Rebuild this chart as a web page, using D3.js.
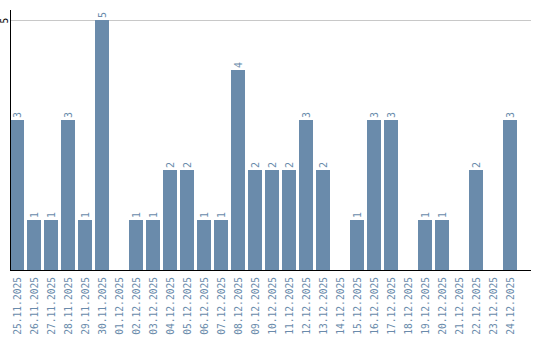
<!DOCTYPE html>
<html>
<head>
<meta charset="utf-8">
<script src="https://cdn.jsdelivr.net/npm/d3@7"></script>
<style>
  body { margin: 0; background: #fff; }
  svg { display: block; }
</style>
</head>
<body>
<div id="chart"></div>
<script>
const dates = ["25.11.2025", "26.11.2025", "27.11.2025", "28.11.2025", "29.11.2025", "30.11.2025",
    "01.12.2025", "02.12.2025", "03.12.2025", "04.12.2025", "05.12.2025", "06.12.2025",
    "07.12.2025", "08.12.2025", "09.12.2025", "10.12.2025", "11.12.2025", "12.12.2025",
    "13.12.2025", "14.12.2025", "15.12.2025", "16.12.2025", "17.12.2025", "18.12.2025",
    "19.12.2025", "20.12.2025", "21.12.2025", "22.12.2025", "23.12.2025", "24.12.2025"];
const counts = [3, 1, 1, 3, 1, 5, 0, 1, 1, 2, 2, 1, 1, 4, 2, 2, 2, 3, 2, 0, 1, 3, 3, 0, 1, 1, 0, 2, 0, 3];
const yTicks = [5];

const width = 540;
const height = 340;
const margin = { top: 10, right: 9, bottom: 70, left: 10 };
const barColor = "#6a8bab";
const fontFamily = "'DejaVu Sans Mono', monospace";

const svg = d3.select("#chart")
    .append("svg")
    .attr("width", width)
    .attr("height", height);

const xScale = d3.scaleBand()
    .domain(dates)
    .range([margin.left, 517])
    .paddingInner(3 / 17)
    .paddingOuter(0)
    .align(0);

const yScale = d3.scaleLinear()
    .domain([0, 5])
    .range([height - margin.bottom, 20]);

// gridlines
svg.selectAll(".y-gridline")
    .data(yTicks)
    .enter().append("line")
    .attr("class", "y-gridline")
    .attr("x1", margin.left)
    .attr("x2", width - margin.right)
    .attr("y1", d => yScale(d) + 0.5)
    .attr("y2", d => yScale(d) + 0.5)
    .attr("stroke", "#c8c8c8")
    .attr("stroke-width", 1);

// bars
svg.selectAll(".bar")
    .data(dates)
    .enter().append("rect")
    .attr("class", "bar")
    .attr("x", d => xScale(d))
    .attr("y", (d, i) => yScale(counts[i]))
    .attr("width", xScale.bandwidth())
    .attr("height", (d, i) => yScale(0) - yScale(counts[i]))
    .attr("fill", barColor);

// value labels
svg.selectAll(".value-label")
    .data(dates)
    .enter().filter((d, i) => counts[i] > 0)
    .append("text")
    .attr("class", "value-label")
    .attr("transform", d => {
        const i = dates.indexOf(d);
        return `translate(${xScale(d) + xScale.bandwidth() / 2 + 3.5},${yScale(counts[i]) - 2}) rotate(-90)`;
    })
    .attr("font-family", fontFamily)
    .attr("font-size", "10px")
    .attr("fill", barColor)
    .text(d => counts[dates.indexOf(d)]);

// x axis
const xAxis = d3.axisBottom(xScale).tickSize(0).tickPadding(0);
const xAxisGroup = svg.append("g")
    .attr("transform", `translate(0,${yScale(0)})`)
    .call(xAxis);
xAxisGroup.select(".domain")
    .attr("d", `M${margin.left},0.5H${width - margin.right}`)
    .attr("stroke", "#000");
xAxisGroup.selectAll("text")
    .attr("font-family", fontFamily)
    .attr("font-size", "9.6px")
    .attr("fill", barColor)
    .attr("dy", null)
    .attr("y", null)
    .attr("text-anchor", "end")
    .attr("transform", "translate(3.5,7) rotate(-90)");

// y axis
const yAxis = d3.axisLeft(yScale).tickValues(yTicks).tickFormat(d3.format("d")).tickSize(0).tickPadding(0);
const yAxisGroup = svg.append("g")
    .attr("transform", `translate(${margin.left + 0.5},0)`)
    .call(yAxis);
yAxisGroup.select(".domain")
    .attr("d", `M0,${margin.top}V${yScale(0)}`)
    .attr("stroke", "#000");
yAxisGroup.selectAll("text")
    .attr("font-family", fontFamily)
    .attr("font-size", "9.6px")
    .attr("fill", "#000")
    .attr("x", null)
    .attr("dy", null)
    .attr("text-anchor", "middle")
    .attr("transform", "translate(-3,0) rotate(-90)");
</script>
</body>
</html>
